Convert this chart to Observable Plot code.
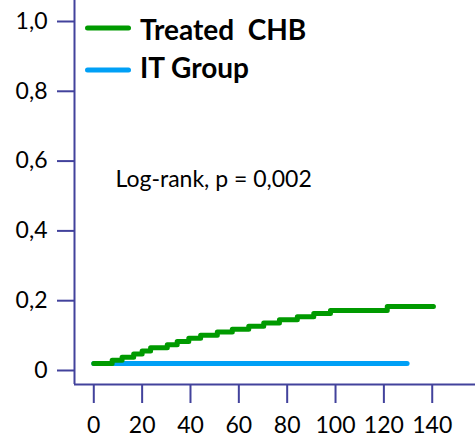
<!DOCTYPE html>
<html>
<head>
<meta charset="utf-8">
<script src="https://cdn.jsdelivr.net/npm/d3@7"></script>
<script src="https://cdn.jsdelivr.net/npm/@observablehq/plot@0.6"></script>
<style>
  html, body { margin: 0; padding: 0; background: white; }
  #chart { width: 475px; height: 438px; }
</style>
</head>
<body>
<div id="chart"></div>
<script>
// ---- data ----
const treatedTimes = [0, 7.6, 11.7, 16.5, 20.0, 23.5, 30.4, 34.5, 39.3, 44.2, 51.1, 57.3, 64.1, 70.3, 76.8, 84.2, 91.0, 97.9, 121.4, 140.5];
const treatedValues = [0, 0.009, 0.018, 0.027, 0.036, 0.045, 0.054, 0.063, 0.072, 0.081, 0.090, 0.098, 0.107, 0.116, 0.125, 0.134, 0.143, 0.152, 0.163, 0.163];
const itTimes = [0, 129.6];
const itValues = [0, 0];
const seriesNames = ["Treated  CHB", "IT Group"];
const seriesColors = ["#009a00", "#00a0f6"];
const xTicks = [0, 20, 40, 60, 80, 100, 120, 140];
const yTicks = [0, 0.2, 0.4, 0.6, 0.8, 1.0];
const yTickLabels = ["0", "0,2", "0,4", "0,6", "0,8", "1,0"];
const annotation = "Log-rank, p = 0,002";

// ---- build ----
const treated = treatedTimes.map((t, i) => ({t, s: treatedValues[i]}));
const it = itTimes.map((t, i) => ({t, s: itValues[i]}));
const axisColor = "#42429c";
const xMin = -7.98, xMax = 157.9, yMin = -0.0602, yMax = 1.0401;

const chart = Plot.plot({
  width: 475,
  height: 438,
  marginLeft: 74,
  marginRight: 0,
  marginTop: 0,
  marginBottom: 54,
  x: {domain: [xMin, xMax]},
  y: {domain: [yMin, yMax]},
  style: {fontFamily: "Lato", fontSize: "23px", background: "white", overflow: "visible"},
  marks: [
    Plot.axisX(xTicks, {label: null, tickSize: 19, tickPadding: 13, stroke: axisColor, strokeWidth: 2, fill: "black", fontSize: 23}),
    Plot.axisY(yTicks, {label: null, tickSize: 17, tickPadding: 10, stroke: axisColor, strokeWidth: 2, fill: "black", fontSize: 23, dy: 7,
      tickFormat: d => yTickLabels[yTicks.indexOf(d)]}),
    Plot.ruleX([xMin], {stroke: axisColor, strokeWidth: 2}),
    Plot.ruleY([yMin], {stroke: axisColor, strokeWidth: 2}),
    Plot.line(it, {x: "t", y: "s", curve: "step-after", stroke: seriesColors[1], strokeWidth: 5, strokeLinecap: "round", strokeLinejoin: "round"}),
    Plot.line(treated, {x: "t", y: "s", curve: "step-after", stroke: seriesColors[0], strokeWidth: 5, strokeLinecap: "round", strokeLinejoin: "round"}),
    Plot.text([annotation], {frameAnchor: "top-left", textAnchor: "start", dx: 41, dy: 170.6, fontSize: 23, fill: "black"})
  ]
});

// legend inside the plot area
const g = d3.select(chart).append("g");
const legendLineY = [28, 70];
const legendTextY = [40, 78];
seriesNames.forEach((name, i) => {
  g.append("line")
    .attr("x1", 87.5).attr("x2", 128.5)
    .attr("y1", legendLineY[i]).attr("y2", legendLineY[i])
    .attr("stroke", seriesColors[i]).attr("stroke-width", 5).attr("stroke-linecap", "round");
  g.append("text")
    .attr("x", 140).attr("y", legendTextY[i])
    .attr("text-anchor", "start")
    .attr("font-family", "Lato").attr("font-weight", "bold").attr("font-size", 28)
    .attr("fill", "black")
    .style("white-space", "pre")
    .text(name);
});

document.getElementById("chart").appendChild(chart);
</script>
</body>
</html>
